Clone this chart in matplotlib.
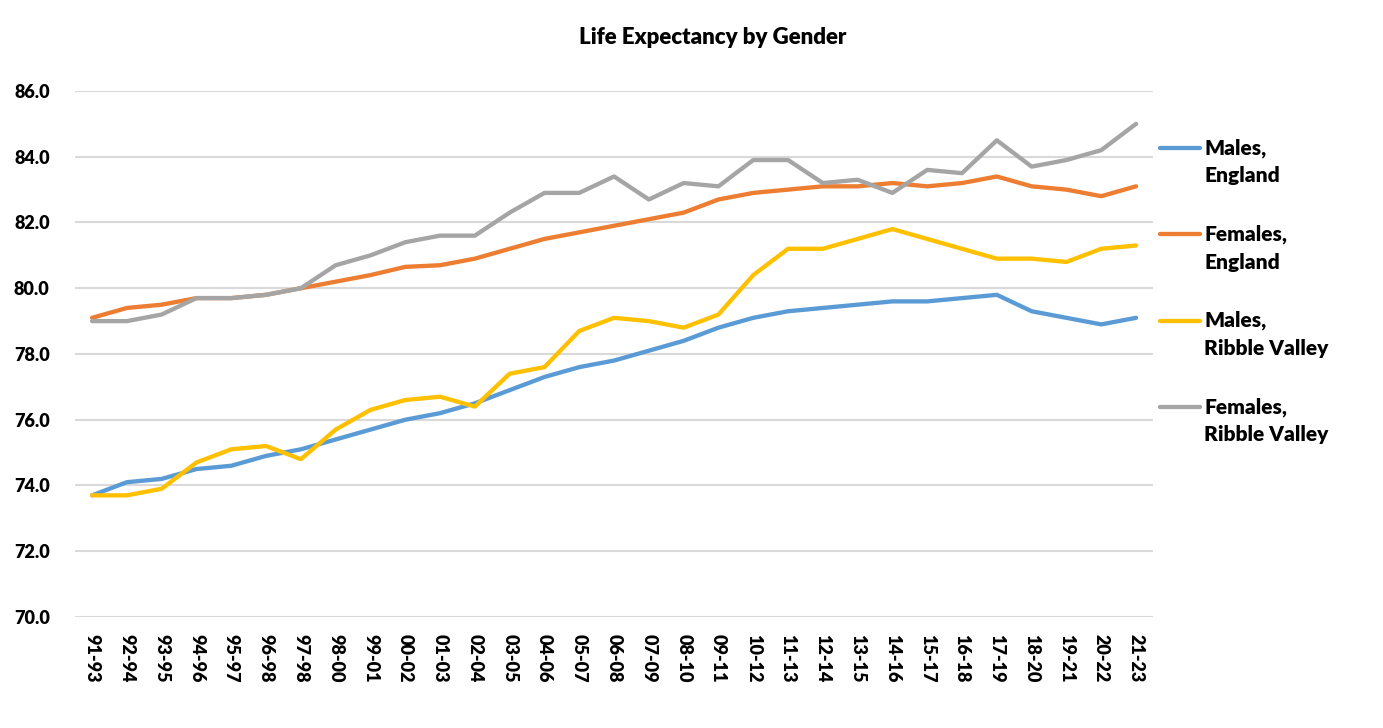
# Life expectancy by gender - England vs Ribble Valley
import matplotlib
matplotlib.use('Agg')
import matplotlib.pyplot as plt

plt.rcParams['font.family'] = ['Lato', 'DejaVu Sans']
plt.rcParams['font.weight'] = 'heavy'

periods = ['91-93', '92-94', '93-95', '94-96', '95-97', '96-98', '97-98', '98-00',
           '99-01', '00-02', '01-03', '02-04', '03-05', '04-06', '05-07', '06-08',
           '07-09', '08-10', '09-11', '10-12', '11-13', '12-14', '13-15', '14-16',
           '15-17', '16-18', '17-19', '18-20', '19-21', '20-22', '21-23']

males_england = [73.7, 74.1, 74.2, 74.5, 74.6, 74.9, 75.1, 75.4, 75.7, 76.0, 76.2,
                 76.5, 76.9, 77.3, 77.6, 77.8, 78.1, 78.4, 78.8, 79.1, 79.3, 79.4,
                 79.5, 79.6, 79.6, 79.7, 79.8, 79.3, 79.1, 78.9, 79.1]
females_england = [79.1, 79.4, 79.5, 79.7, 79.7, 79.8, 80.0, 80.2, 80.4, 80.65, 80.7,
                   80.9, 81.2, 81.5, 81.7, 81.9, 82.1, 82.3, 82.7, 82.9, 83.0, 83.1,
                   83.1, 83.2, 83.1, 83.2, 83.4, 83.1, 83.0, 82.8, 83.1]
males_rv = [73.7, 73.7, 73.9, 74.7, 75.1, 75.2, 74.8, 75.7, 76.3, 76.6, 76.7,
            76.4, 77.4, 77.6, 78.7, 79.1, 79.0, 78.8, 79.2, 80.4, 81.2, 81.2,
            81.5, 81.8, 81.5, 81.2, 80.9, 80.9, 80.8, 81.2, 81.3]
females_rv = [79.0, 79.0, 79.2, 79.7, 79.7, 79.8, 80.0, 80.7, 81.0, 81.4, 81.6,
              81.6, 82.3, 82.9, 82.9, 83.4, 82.7, 83.2, 83.1, 83.9, 83.9, 83.2,
              83.3, 82.9, 83.6, 83.5, 84.5, 83.7, 83.9, 84.2, 85.0]

series = [('Males,', 'England', males_england, '#5B9BD5'),
          ('Females,', 'England', females_england, '#ED7D31'),
          ('Males,', 'Ribble Valley', males_rv, '#FFC000'),
          ('Females,', 'Ribble Valley', females_rv, '#A5A5A5')]

W, H = 1383, 728
fig = plt.figure(figsize=(W / 100, H / 100), dpi=100)
ax = fig.add_axes([0.054, 0.1525, 0.78, 0.7225])

x = range(len(periods))
for l1, l2, vals, col in series:
    ax.plot(x, vals, color=col, lw=3.1, solid_capstyle='round')

ax.set_xlim(-0.5, len(periods) - 0.5)
ax.set_ylim(70, 86)
ax.set_yticks(range(70, 87, 2))
ax.set_yticklabels(['%.1f' % v for v in range(70, 87, 2)], fontsize=13)
ax.set_xticks(list(x))
ax.set_xticklabels(periods, rotation=270, fontsize=13)
ax.tick_params(axis='x', length=0, pad=12)
ax.tick_params(axis='y', length=0, pad=18)

ax.grid(axis='y', color='#D9D9D9', lw=1.5)
ax.set_axisbelow(True)
for s in ax.spines.values():
    s.set_visible(False)

fig.text(0.515, 1 - 38 / H, 'Life Expectancy by Gender', ha='center', va='center', fontsize=16)

# legend in Excel style: handle next to first line of a two-line label
for i, (l1, l2, vals, col) in enumerate(series):
    yy = 1 - (148 + 86.3 * i) / H
    fig.add_artist(plt.Line2D([1160 / W, 1200 / W], [yy, yy], color=col, lw=3.1,
                              solid_capstyle='round'))
    fig.text(1204 / W, yy, l1, ha='left', va='center', fontsize=15)
    fig.text(1204 / W, yy - 28 / H, l2, ha='left', va='center', fontsize=15)

fig.savefig('out.png', dpi=100)
